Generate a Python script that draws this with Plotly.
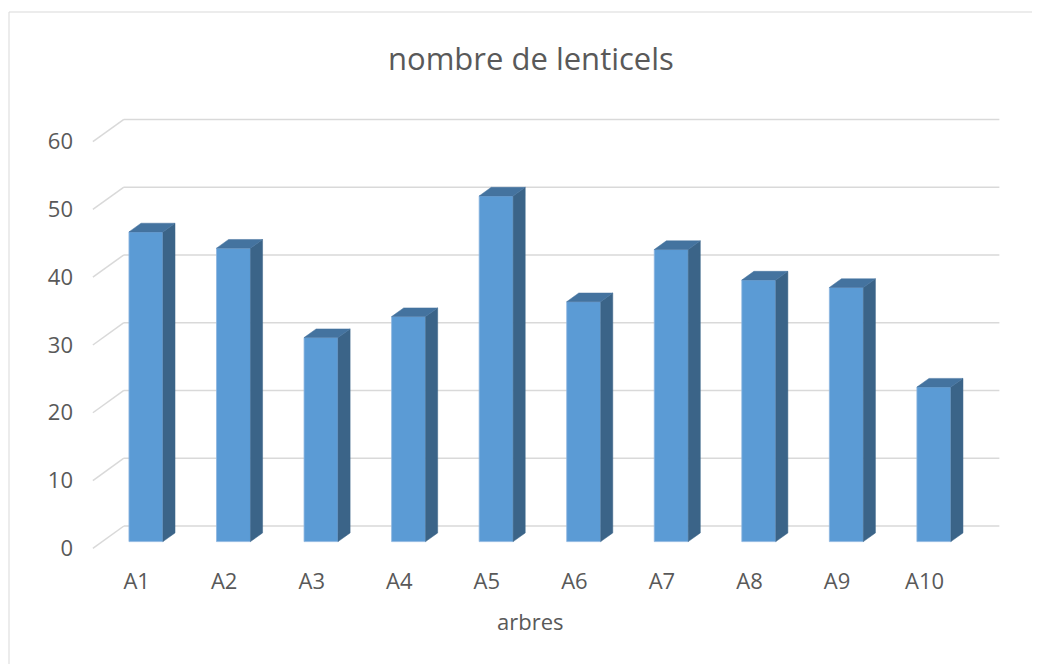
import plotly.graph_objects as go

# ---- data ----
categories = ["A1", "A2", "A3", "A4", "A5", "A6", "A7", "A8", "A9", "A10"]
values = [45.7, 43.3, 30.1, 33.2, 51.0, 35.4, 43.1, 38.6, 37.5, 22.8]
y_ticks = [0, 10, 20, 30, 40, 50, 60]
title_text = "nombre de lenticels"
x_title = "arbres"

# ---- styling / projection constants ----
FRONT = "#5B9BD5"
SIDE = "#3B6488"
TOP = "#44739F"
GRID = "#D9D9D9"
TEXT = "#595959"
FONT = "Open Sans"

DX = 0.354   # x-offset (data units) of full depth
DY = 3.29    # y-offset (data units) of full depth
D0 = 0.30    # bar front depth fraction
DD = 0.39    # bar depth fraction
HALF = 0.194 # half width of bar front face

n = len(categories)
xs = list(range(n))

fig = go.Figure()

# back-wall gridlines and left diagonals, as shapes below traces
shapes = []
for v in y_ticks:
    shapes.append(dict(type="line", xref="x", yref="y", layer="below",
                       x0=-0.5 + DX, y0=v + DY, x1=n - 0.5 + DX, y1=v + DY,
                       line=dict(color=GRID, width=1.5)))
    shapes.append(dict(type="line", xref="x", yref="y", layer="below",
                       x0=-0.5, y0=v, x1=-0.5 + DX, y1=v + DY,
                       line=dict(color=GRID, width=1.5)))

# outer chart border
shapes.append(dict(type="rect", xref="paper", yref="paper",
                   x0=(9 - 92) / 908, x1=(1045 - 92) / 908,
                   y0=(552 - 672) / 437, y1=(552 - 12) / 437,
                   line=dict(color=GRID, width=1), layer="below"))

# front faces of columns
fig.add_trace(go.Bar(
    x=[x + D0 * DX for x in xs], y=values, base=[D0 * DY] * n,
    width=2 * HALF, marker=dict(color=FRONT, line=dict(color="#8DB5E0", width=0.8)),
    hoverinfo="skip", showlegend=False))

# side and top faces
for x, v in zip(xs, values):
    xl = x + D0 * DX - HALF
    xr = x + D0 * DX + HALF
    b0 = D0 * DY
    top = v + D0 * DY
    ddx, ddy = DD * DX, DD * DY
    fig.add_trace(go.Scatter(
        x=[xr, xr + ddx, xr + ddx, xr, xr],
        y=[b0, b0 + ddy, top + ddy, top, b0],
        fill="toself", fillcolor=SIDE, mode="lines",
        line=dict(color=SIDE, width=0.5), hoverinfo="skip", showlegend=False))
    fig.add_trace(go.Scatter(
        x=[xl, xr, xr + ddx, xl + ddx, xl],
        y=[top, top, top + ddy, top + ddy, top],
        fill="toself", fillcolor=TOP, mode="lines",
        line=dict(color=TOP, width=0.5), hoverinfo="skip", showlegend=False))

ymin = -0.546
fig.update_layout(
    width=1032, height=656,
    margin=dict(l=84, r=40, t=107, b=112),
    paper_bgcolor="white", plot_bgcolor="white",
    font=dict(family=FONT, color=TEXT, size=22),
    shapes=shapes,
    xaxis=dict(range=[-0.51, -0.51 + 908 / 87.55], tickvals=xs, ticktext=categories,
               showgrid=False, zeroline=False, showline=False, ticks="",
               ticklabelstandoff=14, tickfont=dict(size=22, color=TEXT)),
    yaxis=dict(range=[ymin, ymin + 437 / 6.777], tickvals=y_ticks,
               showgrid=False, zeroline=False, showline=False, ticks="",
               ticklabelstandoff=18, tickfont=dict(size=22, color=TEXT)),
    annotations=[
        dict(text=title_text, xref="x", x=(n - 1) / 2, yref="paper", y=1,
             yanchor="middle", yshift=57, showarrow=False,
             font=dict(size=31, color=TEXT, family=FONT)),
        dict(text=x_title, xref="x", x=(n - 1) / 2, yref="paper", y=0,
             yanchor="middle", yshift=-69, showarrow=False,
             font=dict(size=22, color=TEXT, family=FONT)),
    ],
)

fig.write_html("out.html")
